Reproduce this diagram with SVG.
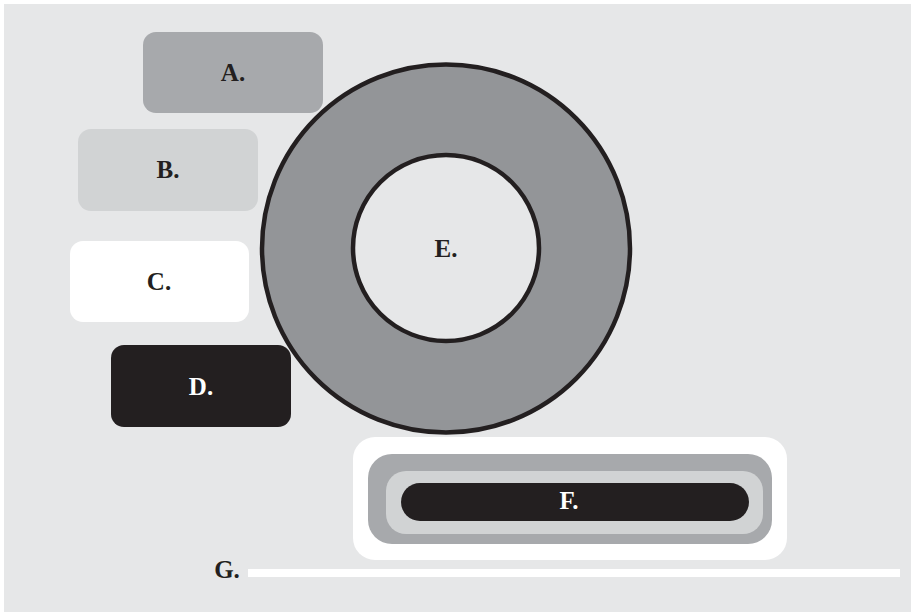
<svg xmlns="http://www.w3.org/2000/svg" width="913" height="612" viewBox="0 0 913 612">
<style>
.lbl{font-family:"Liberation Serif","Times New Roman",serif;font-weight:bold;font-size:25px;text-anchor:middle;fill:#231f20}
.inv{fill:#ffffff}
</style>
<rect x="0" y="0" width="913" height="612" fill="#ffffff"/>
<rect x="4" y="4" width="907" height="608" fill="#e6e7e8"/>
<g id="node-A">
<rect x="143" y="32" width="180" height="81" rx="13" fill="#a7a9ac"/>
<text class="lbl" x="233" y="81">A.</text>
</g>
<g id="node-B">
<rect x="78" y="129" width="180" height="82" rx="13" fill="#d1d3d4"/>
<text class="lbl" x="168" y="178">B.</text>
</g>
<g id="node-C">
<rect x="70" y="241" width="179" height="81" rx="13" fill="#ffffff"/>
<text class="lbl" x="159" y="290">C.</text>
</g>
<g id="node-D">
<rect x="111" y="345" width="180" height="82" rx="13" fill="#231f20"/>
<text class="lbl inv" x="201" y="395">D.</text>
</g>
<g id="node-E">
<circle cx="446" cy="248.5" r="184" fill="#939598" stroke="#231f20" stroke-width="4.5"/>
<circle cx="446" cy="248" r="93" fill="#e6e7e8" stroke="#231f20" stroke-width="4.5"/>
<text class="lbl" x="446" y="257">E.</text>
</g>
<g id="node-F">
<rect x="353" y="437" width="434" height="123" rx="22" fill="#ffffff"/>
<rect x="368" y="454" width="404" height="90" rx="24" fill="#a7a9ac"/>
<rect x="386" y="471" width="377" height="63" rx="20" fill="#d1d3d4"/>
<rect x="401" y="483" width="348" height="38" rx="19" fill="#231f20"/>
<text class="lbl inv" x="569" y="509">F.</text>
</g>
<g id="node-G">
<text class="lbl" x="227" y="578">G.</text>
<rect x="248" y="569" width="652" height="8" fill="#ffffff"/>
</g>
<g id="connectors"></g>
</svg>
